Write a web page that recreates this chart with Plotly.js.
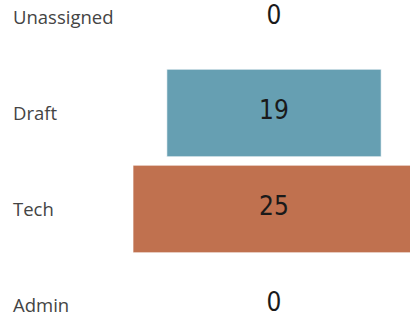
<!DOCTYPE html>
<html><head><meta charset="utf-8">
<script src="https://cdn.plot.ly/plotly-3.0.1.min.js"></script>
<style>html,body{margin:0;padding:0;background:#fff;}#chart{width:410px;height:321px;}</style>
</head><body><div id="chart"></div>
<script>
const stages = ["Unassigned", "Draft", "Tech", "Admin"];
const counts = [0, 19, 25, 0];
const colors = ["#8FB9C7", "#669FB2", "#C0714F", "#9A9A9A"];

const funnel = {
  type: "funnel",
  y: stages,
  x: counts,
  textinfo: "none",
  hoverinfo: "skip",
  marker: {color: colors, line: {width: 1, color: "rgba(255,255,255,0.6)"}},
  connector: {visible: false},
  width: 0.91
};
const labels = {
  type: "scatter",
  mode: "text",
  y: stages,
  x: stages.map(() => 0),
  text: counts.map(String),
  textposition: "middle center",
  textfont: {family: "DejaVu Sans Condensed, DejaVu Sans", size: 26, color: "#1a1a1a"},
  hoverinfo: "skip",
  showlegend: false
};
const annotations = stages.map(s => ({
  xref: "paper", yref: "y", x: -0.287, y: s, text: s,
  xanchor: "left", yanchor: "middle", showarrow: false,
  font: {family: "Open Sans", size: 18.5, color: "#444"}
}));
Plotly.newPlot("chart", [funnel, labels], {
  width: 410, height: 321,
  margin: {l: 100, r: 0, t: 0, b: 0},
  paper_bgcolor: "#fff", plot_bgcolor: "#fff",
  showlegend: false,
  xaxis: {range: [-15.43, 12.06], visible: false, fixedrange: true},
  yaxis: {type: "category", categoryorder: "array", categoryarray: stages,
          range: [3.167, -0.177], showticklabels: false, showgrid: false, zeroline: false, fixedrange: true},
  annotations: annotations
}, {displayModeBar: false, staticPlot: true});
</script></body></html>
